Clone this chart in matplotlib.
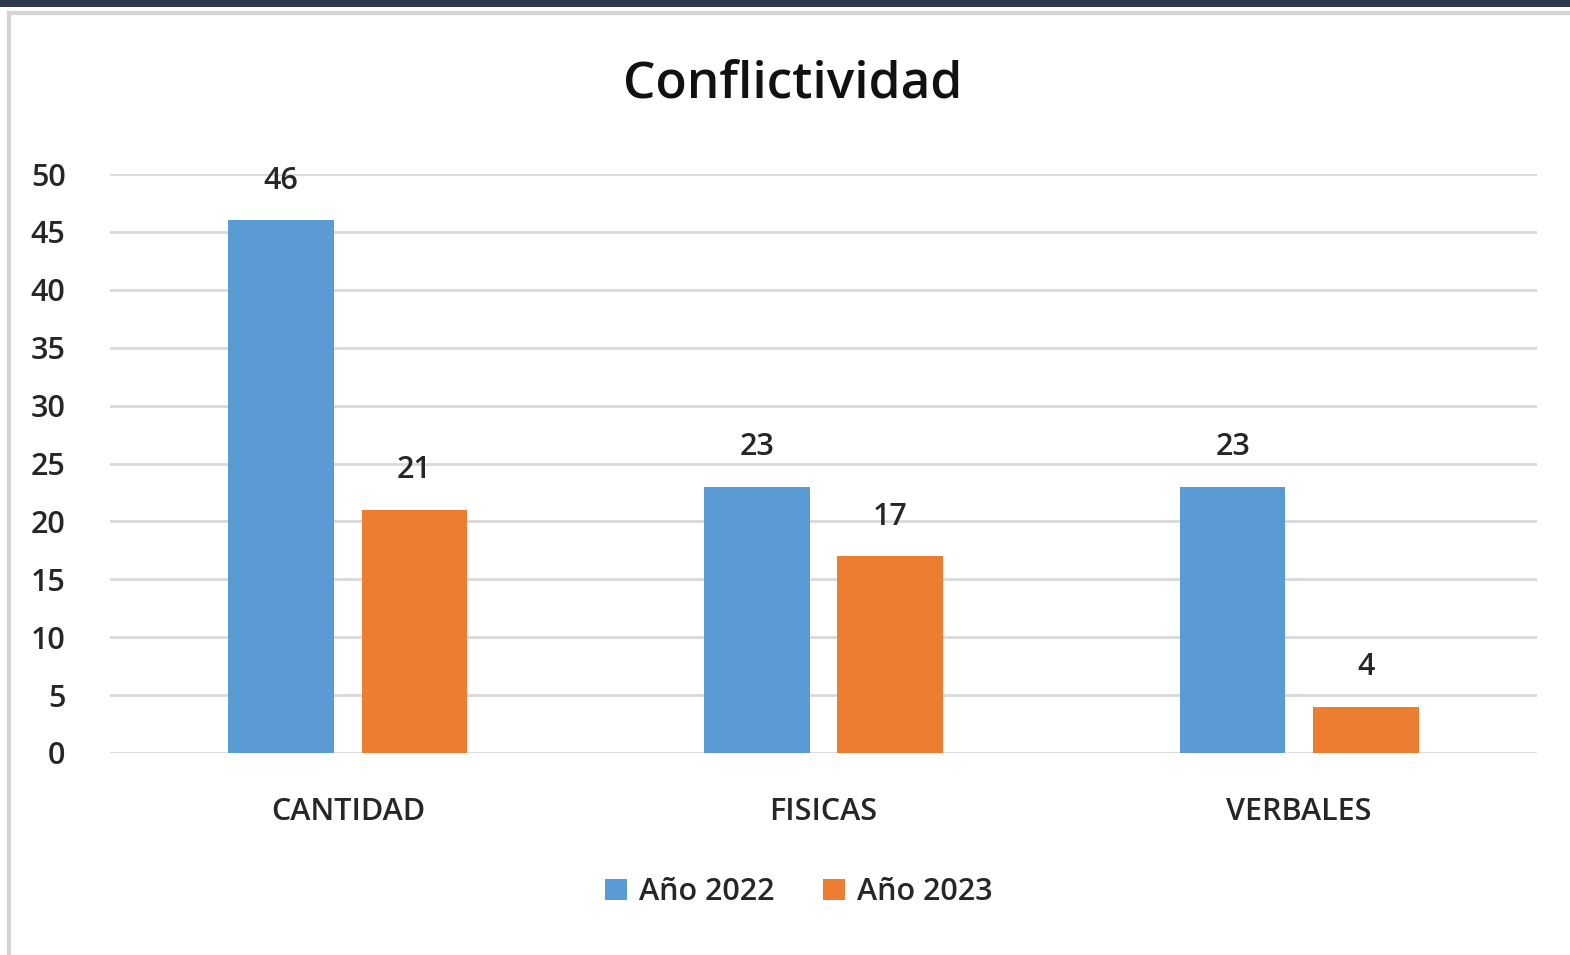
import matplotlib.pyplot as plt
import numpy as np
from matplotlib.patches import Rectangle
from matplotlib.lines import Line2D

categories = ['CANTIDAD', 'FISICAS', 'VERBALES']
series_names = ['Año 2022', 'Año 2023']
values_2022 = [46, 23, 23]
values_2023 = [21, 17, 4]
yticks = [0, 5, 10, 15, 20, 25, 30, 35, 40, 45, 50]

blue = '#5b9bd5'
orange = '#ed7d31'
txt = '#262626'

plt.rcParams['font.family'] = ['Open Sans', 'DejaVu Sans']
plt.rcParams['font.weight'] = 'semibold'

fig = plt.figure(figsize=(15.7, 9.55), dpi=100)
W, H = 1570, 955

# frame decoration around the screenshot
fig.patches.append(Rectangle((0, 1 - 7 / H), 1, 7 / H, transform=fig.transFigure,
                             facecolor='#2f3a50', edgecolor='none', zorder=0))
fig.add_artist(Line2D([9 / W, 1], [1 - 13 / H, 1 - 13 / H], transform=fig.transFigure,
                      color='#d4d4d4', lw=3))
fig.add_artist(Line2D([9 / W, 9 / W], [0, 1 - 13 / H], transform=fig.transFigure,
                      color='#d4d4d4', lw=3))

ax = fig.add_axes([110 / W, 1 - 753 / H, (1537 - 110) / W, (753 - 174) / H])

x = np.arange(len(categories))
width = 0.222
off = 0.14
b1 = ax.bar(x - off, values_2022, width, color=blue, label=series_names[0], zorder=3)
b2 = ax.bar(x + off, values_2023, width, color=orange, label=series_names[1], zorder=3)

for bars in (b1, b2):
    for rect in bars:
        h = rect.get_height()
        ax.text(rect.get_x() + rect.get_width() / 2, h + 3.4, str(int(h)),
                ha='center', va='center', fontsize=22, color=txt)

ax.set_xlim(-0.5, 2.5)
ax.set_ylim(0, 50)
ax.set_yticks(yticks)
ax.set_xticks(x)
ax.set_xticklabels(categories, fontsize=22, color=txt)
ax.tick_params(axis='y', labelsize=22, colors=txt, length=0, pad=32)
ax.tick_params(axis='x', length=0, pad=32)
ax.grid(axis='y', color='#d9d9d9', lw=2, zorder=0)
for s in ax.spines.values():
    s.set_visible(False)

fig.text(793 / W, 1 - 84 / H, 'Conflictividad', ha='center', va='center',
         fontsize=37, color='#111111')

fig.legend(handles=[b1, b2], labels=series_names, loc='center',
           bbox_to_anchor=(799 / W, 1 - 892 / H), ncol=2, frameon=False,
           fontsize=22, handlelength=0.7, handleheight=0.7, handletextpad=0.4,
           columnspacing=1.6, labelcolor=txt)

fig.savefig('out.png', dpi=100)
